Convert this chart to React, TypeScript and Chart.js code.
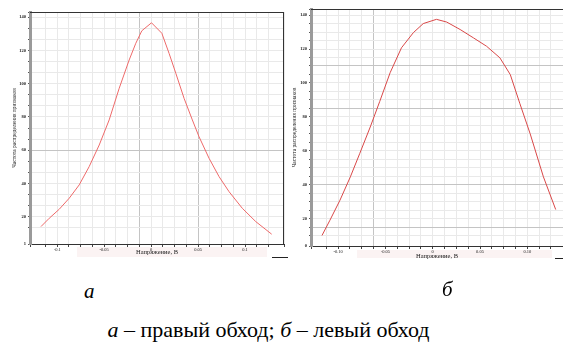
import React, { useEffect, useRef } from "react";
import { Chart, registerables } from "chart.js";

Chart.register(...registerables);

// ---- data: chart a (правый обход)
const voltageA = [-0.1173, -0.1085, -0.0979, -0.0872, -0.0766, -0.066, -0.0553, -0.0447, -0.034, -0.0234, -0.0163, -0.0099, 0.0004, 0.0114, 0.0191, 0.0263, 0.0351, 0.0439, 0.051, 0.0617, 0.0723, 0.083, 0.0971, 0.1114, 0.1284];
const freqA = [14.0, 19.0, 24.4, 31.1, 39.1, 50.1, 63.1, 78.2, 97.3, 114.3, 124.4, 131.9, 136.7, 130.4, 118.3, 106.3, 91.2, 78.2, 68.1, 55.1, 44.1, 35.0, 25.0, 17.0, 9.4];

// ---- data: chart б (левый обход)
const voltageB = [-0.117, -0.1086, -0.098, -0.087, -0.077, -0.066, -0.056, -0.045, -0.033, -0.0205, -0.01, 0.004, 0.0148, 0.029, 0.043, 0.057, 0.071, 0.082, 0.092, 0.103, 0.117, 0.13];
const freqB = [10, 19, 30.8, 44.6, 58.5, 74, 89, 106, 120.7, 129.6, 135, 137.5, 135.9, 131.5, 126.6, 121.6, 114.8, 104.9, 88, 70, 44.6, 25.3];

const yTickLabels = [20, 40, 60, 80, 100, 120, 140];
const xTickLabelsA = ["-0.1", "-0.05", "0", "0.05", "0.1"];
const xTickLabelsB = ["-0.10", "-0.05", "0", "0.05", "0.10"];
const xTickValues = [-0.1, -0.05, 0, 0.05, 0.1];

const yTitle = "Частота распределения признаков";
const xTitle = "Напряжение, В";

type Cfg = {
  xs: number[];
  ys: number[];
  xLabels: string[];
  bottomLabel: string;
  xMin: number;
  xMax: number;
  yMin: number;
  yMax: number;
  yStep: number;
  darkX: number[];
  darkY: number[];
  yWidth: number;
  xHeight: number;
  padTop: number;
  padRight: number;
  yTitlePad: number;
  xTitlePad: number;
  color: string;
  rightBorder: boolean;
  band: [number, number, number, number];
  dash: [number, number, number];
};

function near(a: number, b: number, eps = 1e-6) {
  return Math.abs(a - b) < eps;
}

function PlotChart({ cfg, style }: { cfg: Cfg; style: React.CSSProperties }) {
  const ref = useRef<HTMLCanvasElement | null>(null);
  useEffect(() => {
    if (!ref.current) return;
    const deco = {
      id: "deco",
      beforeDraw(chart: any) {
        const c = chart.ctx;
        c.save();
        c.fillStyle = "#fbf3f3";
        const [bx, by, bw, bh] = cfg.band;
        c.fillRect(bx, by, bw, bh);
        c.restore();
      },
      afterDraw(chart: any) {
        const c = chart.ctx;
        const a = chart.chartArea;
        c.save();
        c.strokeStyle = "#333";
        c.lineWidth = 1;
        c.beginPath();
        c.moveTo(a.left, a.top + 0.5);
        c.lineTo(a.right, a.top + 0.5);
        if (cfg.rightBorder) {
          c.moveTo(a.right - 0.5, a.top);
          c.lineTo(a.right - 0.5, a.bottom);
        }
        c.stroke();
        const [dx, dy, dw] = cfg.dash;
        c.strokeStyle = "#222";
        c.beginPath();
        c.moveTo(dx, dy + 0.5);
        c.lineTo(dx + dw, dy + 0.5);
        c.stroke();
        c.restore();
      },
    };
    const chart = new Chart(ref.current, {
      type: "scatter",
      data: {
        datasets: [
          {
            data: cfg.xs.map((x, i) => ({ x, y: cfg.ys[i] })),
            showLine: true,
            borderColor: cfg.color,
            borderWidth: 1,
            pointRadius: 0,
            tension: 0,
          },
        ],
      },
      options: {
        animation: false,
        responsive: false,
        maintainAspectRatio: false,
        layout: { padding: { top: cfg.padTop, right: cfg.padRight, left: 0, bottom: 0 } },
        plugins: { legend: { display: false }, tooltip: { enabled: false } },
        scales: {
          x: {
            type: "linear",
            min: cfg.xMin,
            max: cfg.xMax,
            afterFit: (s: any) => {
              s.height = cfg.xHeight;
            },
            ticks: {
              stepSize: 0.0125,
              autoSkip: false,
              maxRotation: 0,
              padding: 0,
              color: "#222",
              font: { size: 4.5, family: "Liberation Serif" },
              callback: (v: any) => {
                const idx = xTickValues.findIndex((t) => near(t, Number(v)));
                return idx >= 0 ? cfg.xLabels[idx] : "";
              },
            },
            grid: {
              color: (ctx: any) => {
                const v = ctx.tick ? ctx.tick.value : 0;
                return cfg.darkX.some((d) => near(d, v)) ? "#c4c4c4" : "#e9e9e9";
              },
              tickLength: 3,
              tickColor: "#444",
              lineWidth: 1,
            },
            border: { color: "#333", width: 1 },
            title: {
              display: true,
              text: xTitle,
              color: "#222",
              font: { size: 6.5, family: "Liberation Serif" },
              padding: { top: 0, bottom: cfg.xTitlePad },
            },
          },
          y: {
            type: "linear",
            min: cfg.yMin,
            max: cfg.yMax,
            afterFit: (s: any) => {
              s.width = cfg.yWidth;
            },
            ticks: {
              stepSize: cfg.yStep,
              autoSkip: false,
              padding: 2,
              color: "#222",
              font: { size: 4.5, family: "Liberation Serif", weight: "bold" },
              callback: (v: any, i: number) => {
                if (i === 0) return cfg.bottomLabel;
                const n = Number(v);
                return yTickLabels.some((t) => near(t, n, 1e-3)) ? String(Math.round(n)) : "";
              },
            },
            grid: {
              color: (ctx: any) => {
                const v = ctx.tick ? ctx.tick.value : 0;
                return cfg.darkY.some((d) => near(d, v, 1e-3)) ? "#c4c4c4" : "#e9e9e9";
              },
              tickLength: 2,
              tickColor: "#555",
              lineWidth: 1,
            },
            border: { color: "#9a9a9a", width: 3 },
            title: {
              display: true,
              text: yTitle,
              color: "#222",
              font: { size: 5.5, family: "Liberation Serif" },
              padding: { top: cfg.yTitlePad, bottom: 0 },
            },
          },
        },
      },
      plugins: [deco],
    } as any);
    return () => chart.destroy();
  }, [cfg]);
  return <canvas ref={ref} width={style.width as number} height={style.height as number} style={style} />;
}

const cfgA: Cfg = {
  xs: voltageA,
  ys: freqA,
  xLabels: xTickLabelsA,
  bottomLabel: "1",
  xMin: -0.129,
  xMax: 0.1415,
  yMin: 3.5,
  yMax: 143.2,
  yStep: 20 / 3,
  darkX: [-0.0125, 0.05],
  darkY: [60],
  yWidth: 30,
  xHeight: 26,
  padTop: 12,
  padRight: 6,
  yTitlePad: 11,
  xTitlePad: 14,
  color: "#ee6a6a",
  rightBorder: true,
  band: [77, 247, 190, 10],
  dash: [272, 257, 16],
};

const cfgB: Cfg = {
  xs: voltageB,
  ys: freqB,
  xLabels: xTickLabelsB,
  bottomLabel: "0",
  xMin: -0.1286,
  xMax: 0.1377,
  yMin: 3.8,
  yMax: 143.6,
  yStep: 5,
  darkX: [-0.0625],
  darkY: [110, 85, 40, 15],
  yWidth: 29,
  xHeight: 24,
  padTop: 9,
  padRight: 0,
  yTitlePad: 9,
  xTitlePad: 10,
  color: "#d94848",
  rightBorder: false,
  band: [75, 250, 195, 8],
  dash: [273, 258, 8],
};

export default function App() {
  useEffect(() => {
    document.body.style.margin = "0";
  }, []);
  return (
    <div style={{ position: "relative", width: 563, height: 347, background: "#fff", overflow: "hidden" }}>
      <PlotChart cfg={cfgA} style={{ position: "absolute", left: 0, top: 0, width: 290, height: 270 }} />
      <PlotChart cfg={cfgB} style={{ position: "absolute", left: 282, top: 0, width: 281, height: 270 }} />
      <div
        style={{
          position: "absolute",
          left: 84,
          top: 279,
          fontFamily: "Liberation Serif",
          fontStyle: "italic",
          fontSize: 21,
          lineHeight: "24px",
        }}
      >
        а
      </div>
      <div
        style={{
          position: "absolute",
          left: 442,
          top: 277,
          fontFamily: "Liberation Serif",
          fontStyle: "italic",
          fontSize: 21,
          lineHeight: "24px",
        }}
      >
        б
      </div>
      <div
        style={{
          position: "absolute",
          left: 0,
          width: 537,
          top: 317,
          textAlign: "center",
          fontFamily: "Liberation Serif",
          fontSize: 22,
          lineHeight: "26px",
          whiteSpace: "nowrap",
        }}
      >
        <i>а</i> – правый обход; <i>б</i> – левый обход
      </div>
    </div>
  );
}
